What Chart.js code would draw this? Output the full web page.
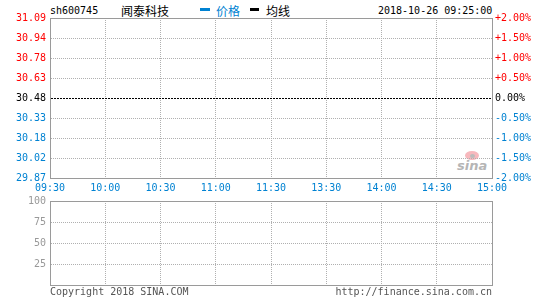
<!DOCTYPE html>
<html>
<head>
<meta charset="utf-8">
<script src="https://cdn.jsdelivr.net/npm/chart.js@4"></script>
<style>
  body { margin: 0; background: #fff; }
  #wrap { position: relative; width: 545px; height: 300px; overflow: hidden; }
  canvas { position: absolute; left: 0; top: 0; }
  .t { position: absolute; white-space: nowrap; font: 10px "DejaVu Sans Mono", monospace; line-height: 12px; }
  .cn { font: 12px "Noto Sans CJK SC", sans-serif; line-height: 14px; }
  .dash { position: absolute; height: 3px; }
</style>
</head>
<body>
<div id="wrap">
  <div class="t" style="left:50px;top:5px;color:#000">sh600745</div>
  <div class="t cn" style="left:121px;top:4px;color:#000">闻泰科技</div>
  <div class="dash" style="left:200px;top:8px;width:10px;background:#0082d2"></div>
  <div class="t cn" style="left:216px;top:4px;color:#0082d2">价格</div>
  <div class="dash" style="left:250px;top:8px;width:9px;background:#000"></div>
  <div class="t cn" style="left:266px;top:4px;color:#000">均线</div>
  <div class="t" style="left:378px;top:5px;color:#000">2018-10-26 09:25:00</div>

  <div style="position:absolute;left:465px;top:151px;width:14px;height:9px;border-radius:50%;background:#f7b8bd"></div>
  <div style="position:absolute;left:470px;top:154px;width:5px;height:4px;border-radius:50%;background:#bbb"></div>
  <div class="t" style="left:457px;top:158px;font:italic bold 13px 'DejaVu Sans',sans-serif;color:#b5b5b5">sina</div>

  <canvas id="priceChart" width="545" height="300"></canvas>
  <canvas id="volChart" width="545" height="300"></canvas>

  <div class="t" style="left:50px;top:286px;color:#555">Copyright 2018 SINA.COM</div>
  <div class="t" style="right:53px;top:286px;color:#555">http://finance.sina.com.cn</div>
</div>
<script>
// --- data ---
const timeLabels = ["09:30", "10:00", "10:30", "11:00", "11:30", "13:30", "14:00", "14:30", "15:00"];
const prevClose = 30.48;
const pctTicks = [-2, -1.5, -1, -0.5, 0, 0.5, 1, 1.5, 2];
const volTicks = [0, 25, 50, 75, 100];
// 09:25 snapshot: no trades yet
const price = [];
const avgPrice = [];
const volume = [];

const BLUE = "#0082d2", RED = "#ff0000", GRID = "#b0b0b0", FRAME = "#9a9a9a";
const mono = { family: "DejaVu Sans Mono", size: 10 };

const isBase = v => Math.abs(v - prevClose) < 1e-6;
const upDownColor = (v, base) => v > base + 1e-6 ? RED : (v < base - 1e-6 ? BLUE : "#000");

const fixW = w => s => { s.width = w; };
const fixH = h => s => { s.height = h; };

new Chart(document.getElementById("priceChart"), {
  type: "line",
  data: {
    labels: timeLabels,
    datasets: [
      { label: "价格", data: price, borderColor: BLUE, borderWidth: 1, pointRadius: 0, yAxisID: "y" },
      { label: "均线", data: avgPrice, borderColor: "#000", borderWidth: 1, pointRadius: 0, yAxisID: "y" }
    ]
  },
  options: {
    responsive: false,
    animation: false,
    layout: { padding: { top: 18, bottom: 100, left: 0, right: 0 } },
    plugins: { legend: { display: false }, tooltip: { enabled: false } },
    scales: {
      x: {
        offset: false,
        grid: { color: GRID, drawTicks: false, offset: false },
        border: { color: FRAME, dash: [1, 1] },
        ticks: { color: BLUE, font: mono, padding: 4, maxRotation: 0, autoSkip: false },
        afterFit: fixH(22)
      },
      xTop: {
        position: "top",
        type: "category",
        labels: timeLabels,
        grid: { display: false, drawTicks: false },
        border: { color: FRAME },
        ticks: { display: false },
        afterFit: fixH(0)
      },
      y: {
        position: "left",
        min: prevClose * (1 + pctTicks[0] / 100),
        max: prevClose * (1 + pctTicks[pctTicks.length - 1] / 100),
        afterBuildTicks: s => { s.ticks = pctTicks.map(p => ({ value: prevClose * (1 + p / 100) })); },
        grid: {
          drawTicks: false,
          color: c => c.tick && isBase(c.tick.value) ? "#000" : GRID
        },
        border: {
          color: FRAME,
          dash: c => c.tick && isBase(c.tick.value) ? [2, 1] : [1, 1]
        },
        ticks: {
          font: mono,
          padding: 4,
          color: c => upDownColor(c.tick.value, prevClose),
          callback: v => v.toFixed(2)
        },
        afterFit: fixW(50)
      },
      yPct: {
        position: "right",
        min: pctTicks[0],
        max: pctTicks[pctTicks.length - 1],
        afterBuildTicks: s => { s.ticks = pctTicks.map(p => ({ value: p })); },
        grid: { display: false, drawTicks: false },
        border: { color: FRAME },
        ticks: {
          font: mono,
          padding: 3,
          color: c => upDownColor(c.tick.value, 0),
          callback: v => (v > 0 ? "+" : "") + v.toFixed(2) + "%"
        },
        afterFit: fixW(53)
      }
    }
  }
});

new Chart(document.getElementById("volChart"), {
  type: "bar",
  data: {
    labels: timeLabels,
    datasets: [{ label: "成交量", data: volume, backgroundColor: BLUE, yAxisID: "y" }]
  },
  options: {
    responsive: false,
    animation: false,
    layout: { padding: { top: 201, bottom: 15, left: 0, right: 0 } },
    plugins: { legend: { display: false }, tooltip: { enabled: false } },
    scales: {
      x: {
        offset: false,
        grid: { color: GRID, drawTicks: false, offset: false },
        border: { color: FRAME, dash: [1, 1] },
        ticks: { display: false },
        afterFit: fixH(0)
      },
      xTop: {
        position: "top",
        type: "category",
        labels: timeLabels,
        grid: { display: false, drawTicks: false },
        border: { color: FRAME },
        ticks: { display: false },
        afterFit: fixH(0)
      },
      y: {
        position: "left",
        min: volTicks[0],
        max: volTicks[volTicks.length - 1],
        afterBuildTicks: s => { s.ticks = volTicks.map(v => ({ value: v })); },
        grid: { color: GRID, drawTicks: false },
        border: { color: FRAME, dash: [1, 1] },
        ticks: {
          font: mono,
          padding: 4,
          color: "#999",
          callback: v => v === 0 ? "" : v
        },
        afterFit: fixW(50)
      },
      yRight: {
        position: "right",
        min: 0,
        max: 100,
        grid: { display: false, drawTicks: false },
        border: { color: FRAME },
        ticks: { display: false },
        afterFit: fixW(53)
      }
    }
  }
});
</script>
</body>
</html>
